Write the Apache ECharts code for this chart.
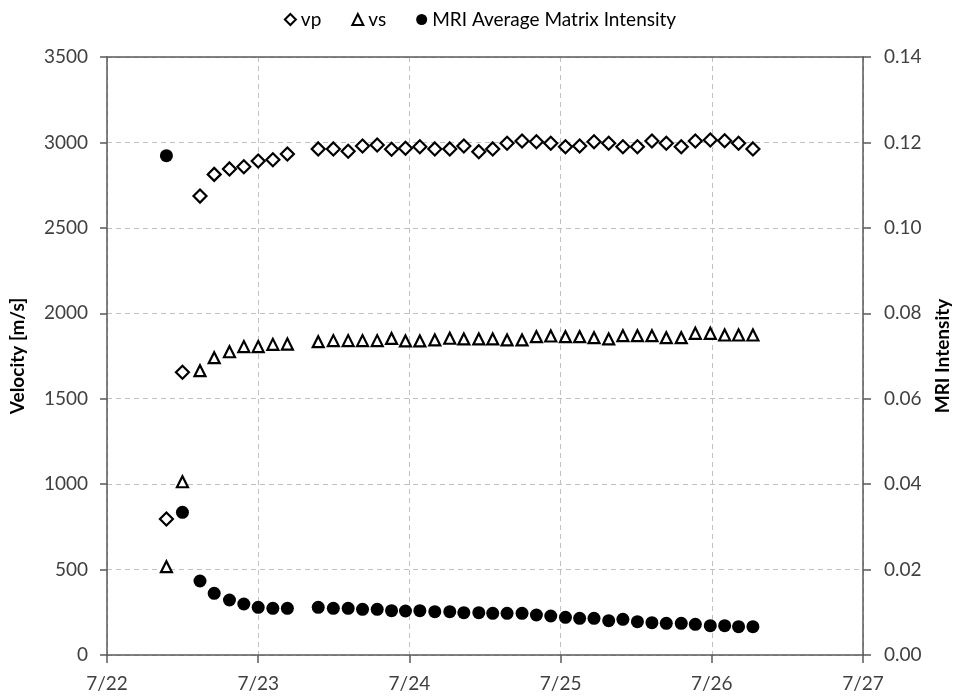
<!DOCTYPE html>
<html>
<head>
<meta charset="utf-8">
<script src="https://cdn.jsdelivr.net/npm/echarts@6/dist/echarts.min.js"></script>
<style>html,body{margin:0;padding:0;background:#fff;}#c{width:960px;height:700px;}</style>
</head>
<body>
<div id="c"></div>
<script>
// Time in days since 7/22 00:00
const times = [0.393,0.499,0.615,0.709,0.810,0.905,1.000,1.097,1.193,1.397,1.497,1.595,1.690,1.787,1.882,1.974,2.069,2.168,2.267,2.360,2.459,2.551,2.646,2.745,2.840,2.935,3.032,3.126,3.221,3.318,3.412,3.508,3.604,3.699,3.798,3.891,3.990,4.085,4.177,4.272];
const vp = [796,1655,2686,2813,2845,2858,2891,2899,2932,2962,2962,2948,2979,2985,2960,2966,2975,2962,2962,2979,2946,2962,2995,3008,3004,2995,2975,2979,3004,2995,2975,2975,3008,2995,2975,3008,3014,3010,2995,2962];
const vs = [517,1014,1664,1740,1775,1805,1805,1818,1820,1834,1840,1840,1840,1840,1853,1838,1838,1844,1854,1850,1850,1850,1844,1844,1863,1867,1863,1863,1857,1850,1869,1869,1869,1857,1857,1883,1883,1873,1873,1873];
const mri = [0.1169,0.0334,0.01732,0.01444,0.01288,0.01194,0.01117,0.01093,0.01093,0.01117,0.01093,0.01093,0.0107,0.0107,0.01037,0.0103,0.01037,0.01014,0.01014,0.0099,0.0099,0.00976,0.00976,0.00976,0.00936,0.00913,0.00882,0.00859,0.00859,0.00803,0.00836,0.0078,0.00756,0.00742,0.00742,0.00719,0.00686,0.00686,0.00663,0.00663];
const xTickLabels = ['7/22','7/23','7/24','7/25','7/26','7/27'];

const FONT = 'Lato';
const axisColor = '#595959';
const labelColor = '#404040';
const gridColor = '#c0c0c0';

const pair = (arr) => times.map((t, i) => [t, arr[i]]);

const chart = echarts.init(document.getElementById('c'), null, {renderer: 'canvas'});
chart.setOption({
  animation: false,
  backgroundColor: '#fff',
  textStyle: {fontFamily: FONT},
  legend: {
    top: 5,
    left: 'center',
    itemWidth: 11,
    itemHeight: 11,
    itemGap: 30,
    textStyle: {fontFamily: FONT, fontSize: 19, color: '#000'},
    data: ['vp', 'vs', 'MRI Average Matrix Intensity']
  },
  grid: {left: 107, right: 97, top: 57, bottom: 45, containLabel: false, outerBoundsMode: 'none'},
  xAxis: [{
    type: 'value', min: 0, max: 5, interval: 1,
    axisLine: {show: true, onZero: false, lineStyle: {color: axisColor, width: 1.5}},
    axisTick: {show: true, length: 8, lineStyle: {color: axisColor, width: 1.5}},
    axisLabel: {margin: 19, fontSize: 19, color: labelColor, fontFamily: FONT,
      formatter: (v) => xTickLabels[Math.round(v)]},
    splitLine: {show: true, lineStyle: {color: gridColor, type: [5, 4], width: 1}}
  }, {
    type: 'value', min: 0, max: 5, position: 'top',
    axisLine: {show: true, onZero: false, lineStyle: {color: axisColor, width: 1.5}},
    axisTick: {show: false}, axisLabel: {show: false}, splitLine: {show: false}
  }],
  yAxis: [{
    type: 'value', min: 0, max: 3500, interval: 500, position: 'left',
    name: 'Velocity [m/s]', nameLocation: 'middle', nameGap: 80, nameRotate: 90,
    nameTextStyle: {fontFamily: FONT, fontSize: 19, fontWeight: 'bold', color: '#000'},
    axisLine: {show: true, onZero: false, lineStyle: {color: axisColor, width: 1.5}},
    axisTick: {show: true, length: 7, lineStyle: {color: axisColor, width: 1.5}},
    axisLabel: {margin: 19, fontSize: 19, color: labelColor, fontFamily: FONT,
      formatter: (v) => String(v)},
    splitLine: {show: true, lineStyle: {color: gridColor, type: [5, 4], width: 1}}
  }, {
    type: 'value', min: 0, max: 0.14, interval: 0.02, position: 'right',
    name: 'MRI Intensity', nameLocation: 'middle', nameGap: 70, nameRotate: 90,
    nameTextStyle: {fontFamily: FONT, fontSize: 19, fontWeight: 'bold', color: '#000'},
    axisLine: {show: true, onZero: false, lineStyle: {color: axisColor, width: 1.5}},
    axisTick: {show: true, length: 8, lineStyle: {color: axisColor, width: 1.5}},
    axisLabel: {margin: 21, fontSize: 19, color: labelColor, fontFamily: FONT,
      formatter: (v) => v.toFixed(2)},
    splitLine: {show: false}
  }],
  series: [{
    name: 'vp', type: 'scatter', xAxisIndex: 0, yAxisIndex: 0,
    symbol: 'diamond', symbolSize: 13,
    itemStyle: {color: '#fff', borderColor: '#000', borderWidth: 2.2, opacity: 1},
    data: pair(vp)
  }, {
    name: 'vs', type: 'scatter', xAxisIndex: 0, yAxisIndex: 0,
    symbol: 'triangle', symbolSize: 11,
    itemStyle: {color: '#fff', borderColor: '#000', borderWidth: 2.2, opacity: 1},
    data: pair(vs)
  }, {
    name: 'MRI Average Matrix Intensity', type: 'scatter', xAxisIndex: 0, yAxisIndex: 1,
    symbol: 'circle', symbolSize: 13,
    itemStyle: {color: '#000', opacity: 1},
    data: pair(mri)
  }]
});
</script>
</body>
</html>
